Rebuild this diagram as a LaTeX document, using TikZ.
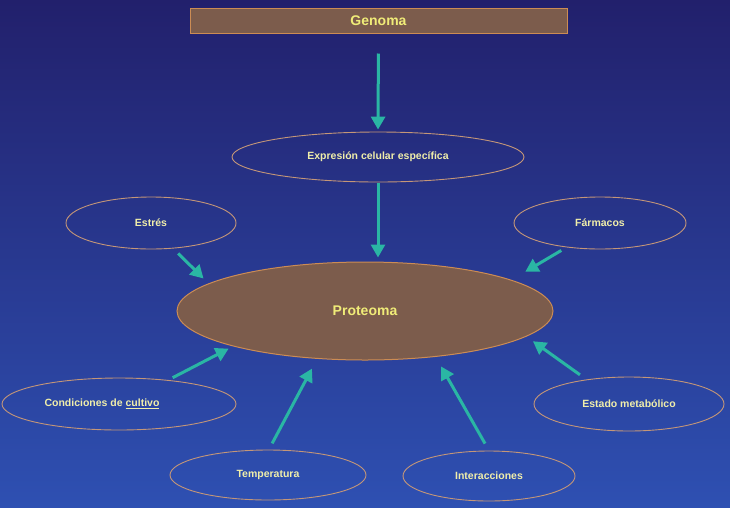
\documentclass[tikz,border=0pt]{standalone}
\usepackage{fontspec}
\setmainfont{Liberation Sans}
\usetikzlibrary{shapes.geometric,arrows.meta}

\definecolor{fondoarriba}{RGB}{34,32,108}
\definecolor{fondomedio}{RGB}{42,58,160}
\definecolor{fondoabajo}{RGB}{46,80,178}
\definecolor{cafe}{RGB}{124,92,76}
\definecolor{borde}{RGB}{204,140,84}
\definecolor{bordefino}{RGB}{196,150,120}
\definecolor{amarillo}{RGB}{240,236,120}
\definecolor{crema}{RGB}{240,238,170}
\definecolor{turquesa}{RGB}{42,182,164}

\tikzset{
  caja/.style={draw=borde, line width=1pt, fill=cafe, minimum width=377pt,
    minimum height=25pt, text=amarillo, font=\fontsize{14}{16}\selectfont\bfseries},
  factor/.style={ellipse, draw=bordefino, line width=0.9pt, inner sep=0pt,
    text=crema, font=\fontsize{10.5}{12}\selectfont\bfseries},
  centro/.style={ellipse, draw=borde, line width=1pt, fill=cafe, inner sep=0pt,
    minimum width=376pt, minimum height=98pt, text=amarillo,
    font=\fontsize{14}{16}\selectfont\bfseries},
  flecha/.style={draw=turquesa, line width=3pt,
    -{Triangle[width=14pt,length=13pt]}},
}

\begin{document}
\begin{tikzpicture}[x=1pt, y=-1pt]
	\useasboundingbox (0,0) rectangle (730,507);
	\shade[top color=fondoarriba, middle color=fondomedio, bottom color=fondoabajo]
		(0,0) rectangle (730,507);
	% nodes
	\node[caja] (genoma) at (378.5,20.5) {Genoma};
	\node[factor, minimum width=292pt, minimum height=50pt] (expresion) at (378,157) {Expresión celular específica};
	\node[centro] (proteoma) at (365,311) {Proteoma};
	\node[factor, minimum width=170pt, minimum height=52pt] (estres) at (151,223) {Estrés};
	\node[factor, minimum width=172pt, minimum height=52pt] (farmacos) at (600,223) {Fármacos};
	\node[factor, minimum width=234pt, minimum height=52pt,
		label={[factor, draw=none, xshift=-17pt]center:Condiciones de \underline{cultivo}}] (condiciones) at (119,404) {};
	\node[factor, minimum width=190pt, minimum height=54pt] (estado) at (629,404) {Estado metabólico};
	\node[factor, minimum width=196pt, minimum height=50pt] (temperatura) at (268,475) {Temperatura};
	\node[factor, minimum width=172pt, minimum height=50pt] (interacciones) at (489,476) {Interacciones};
	% arrows
	\draw[flecha, shorten <=20pt, shorten >=2pt] (genoma.south) -- (expresion.north);
	\draw[flecha, shorten <=1pt, shorten >=4pt] (expresion.south) -- (expresion.south |- proteoma.north);
	\draw[flecha, shorten <=7pt, shorten >=7pt] (estres.-49) -- (proteoma.170);
	\draw[flecha, shorten <=6pt, shorten >=16pt] (farmacos.-144) -- (proteoma.12);
	\draw[flecha, shorten <=5pt, shorten >=5pt] (condiciones.26) -- (proteoma.-165);
	\draw[flecha, shorten <=7pt, shorten >=11pt] (temperatura.88) -- (proteoma.-135);
	\draw[flecha, shorten <=8pt, shorten >=11pt] (interacciones.north) -- (proteoma.-33);
	\draw[flecha, shorten <=8pt, shorten >=8pt] (estado.150) -- (proteoma.-9);
\end{tikzpicture}
\end{document}
